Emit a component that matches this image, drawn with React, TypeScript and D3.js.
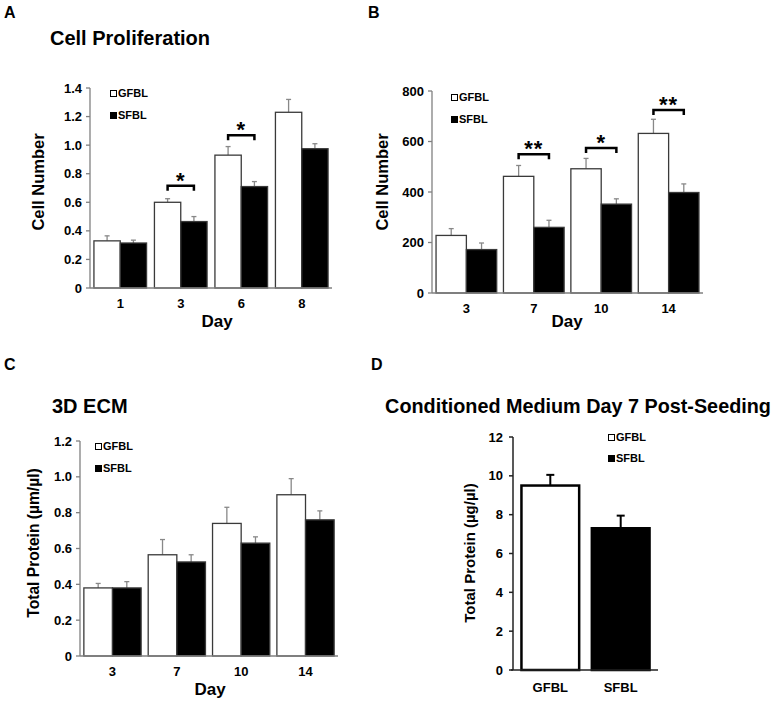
import React from 'react';
import * as d3 from 'd3';

// Panel A - cell proliferation
const daysA = ['1', '3', '6', '8'];
const gfblA = [0.33, 0.6, 0.93, 1.23];
const gfblErrA = [0.035, 0.025, 0.06, 0.09];
const sfblA = [0.315, 0.465, 0.71, 0.975];
const sfblErrA = [0.02, 0.035, 0.035, 0.035];
const sigA = [
  { day: '3', y: 0.715, label: '*' },
  { day: '6', y: 1.07, label: '*' },
];

// Panel B - cell number
const daysB = ['3', '7', '10', '14'];
const gfblB = [228, 462, 492, 632];
const gfblErrB = [27, 43, 41, 56];
const sfblB = [172, 260, 352, 398];
const sfblErrB = [26, 28, 21, 34];
const sigB = [
  { day: '7', y: 550, label: '**' },
  { day: '10', y: 574, label: '*' },
  { day: '14', y: 725, label: '**' },
];

// Panel C - 3D ECM
const daysC = ['3', '7', '10', '14'];
const gfblC = [0.38, 0.565, 0.74, 0.9];
const gfblErrC = [0.025, 0.085, 0.09, 0.09];
const sfblC = [0.38, 0.525, 0.63, 0.76];
const sfblErrC = [0.035, 0.04, 0.035, 0.05];

// Panel D - conditioned medium
const groupsD = ['GFBL', 'SFBL'];
const valuesD = [9.5, 7.3];
const errD = [0.55, 0.65];

const FONT = '"Liberation Sans", Arial, sans-serif';

type PanelProps = {
  x0: number; x1: number; y0: number; y1: number;
  max: number; step: number; fmt: (v: number) => string;
  days: string[]; gfbl: number[]; gfblErr: number[]; sfbl: number[]; sfblErr: number[];
  sig?: { day: string; y: number; label: string }[];
  pi: number; po: number;
  legendX: number; legendY: number;
};

const GroupedPanel = (p: PanelProps) => {
  const x = d3.scaleBand().domain(p.days).range([p.x0, p.x1]).paddingInner(p.pi).paddingOuter(p.po);
  const y = d3.scaleLinear().domain([0, p.max]).range([p.y1, p.y0]);
  const bw = x.bandwidth() / 2;
  const ticks = d3.range(0, p.max + p.step / 2, p.step);
  const series = [
    { vals: p.gfbl, err: p.gfblErr, fill: '#fff', off: 0 },
    { vals: p.sfbl, err: p.sfblErr, fill: '#000', off: bw },
  ];
  return (
    <g>
      {series.map((s, si) =>
        p.days.map((d, i) => {
          const bx = (x(d) as number) + s.off;
          const cx = bx + bw / 2;
          return (
            <g key={`${si}-${d}`}>
              <line x1={cx} x2={cx} y1={y(s.vals[i])} y2={y(s.vals[i] + s.err[i])} stroke="#888" strokeWidth={1.3} />
              <line x1={cx - 2.5} x2={cx + 2.5} y1={y(s.vals[i] + s.err[i])} y2={y(s.vals[i] + s.err[i])} stroke="#888" strokeWidth={1.3} />
              <rect x={bx} y={y(s.vals[i])} width={bw} height={y(0) - y(s.vals[i])} fill={s.fill} stroke="#3a3a3a" strokeWidth={1.3} />
            </g>
          );
        })
      )}
      {/* axes */}
      <line x1={p.x0} x2={p.x0} y1={p.y0} y2={p.y1} stroke="#808080" strokeWidth={1.3} />
      <line x1={p.x0} x2={p.x1} y1={p.y1} y2={p.y1} stroke="#808080" strokeWidth={1.3} />
      {ticks.map(t => (
        <g key={t} transform={`translate(${p.x0},${y(t)})`}>
          <line x1={-4} x2={0} stroke="#808080" strokeWidth={1.3} />
          <text x={-8} dy="0.35em" textAnchor="end" fontSize={13} fontWeight="bold">{p.fmt(t)}</text>
        </g>
      ))}
      {p.days.map(d => (
        <text key={d} x={(x(d) as number) + x.bandwidth() / 2} y={p.y1 + 20} textAnchor="middle" fontSize={13} fontWeight="bold">{d}</text>
      ))}
      {(p.sig || []).map(s => {
        const xa = (x(s.day) as number) + bw / 2;
        const xb = (x(s.day) as number) + bw * 1.5;
        const yy = y(s.y);
        return (
          <g key={s.day}>
            <path d={`M${xa},${yy + 5}V${yy}H${xb}V${yy + 5}`} fill="none" stroke="#000" strokeWidth={2.5} />
            <text x={(xa + xb) / 2} y={yy + 2} textAnchor="middle" fontSize={22} fontWeight="bold" letterSpacing={1}>{s.label}</text>
          </g>
        );
      })}
      {/* legend */}
      <rect x={p.legendX + 0.5} y={p.legendY - 6.5} width={6} height={6} fill="#fff" stroke="#000" strokeWidth={1} />
      <text x={p.legendX + 8} y={p.legendY} fontSize={11} fontWeight="bold">GFBL</text>
      <rect x={p.legendX} y={p.legendY + 15} width={7} height={7} fill="#000" />
      <text x={p.legendX + 8} y={p.legendY + 22} fontSize={11} fontWeight="bold">SFBL</text>
    </g>
  );
};

const PanelD = () => {
  const x0 = 513, x1 = 658, y0 = 437, y1 = 670;
  const x = d3.scaleBand().domain(groupsD).range([x0, x1]).paddingInner(0.18).paddingOuter(0.12);
  const y = d3.scaleLinear().domain([0, 12]).range([y1, y0]);
  const ticks = d3.range(0, 13, 2);
  return (
    <g>
      {groupsD.map((g, i) => {
        const bx = x(g) as number;
        const cx = bx + x.bandwidth() / 2;
        const top = y(valuesD[i] + errD[i]);
        return (
          <g key={g}>
            <line x1={cx} x2={cx} y1={y(valuesD[i])} y2={top} stroke="#000" strokeWidth={2} />
            <line x1={cx - 4} x2={cx + 4} y1={top} y2={top} stroke="#000" strokeWidth={2} />
            <rect x={bx} y={y(valuesD[i])} width={x.bandwidth()} height={y(0) - y(valuesD[i])}
              fill={i === 0 ? '#fff' : '#000'} stroke="#000" strokeWidth={2.5} />
            <text x={cx} y={y1 + 22} textAnchor="middle" fontSize={13} fontWeight="bold">{g}</text>
          </g>
        );
      })}
      <line x1={x0} x2={x0} y1={y0} y2={y1} stroke="#222" strokeWidth={1.5} />
      <line x1={x0 - 2} x2={x1} y1={y1} y2={y1} stroke="#222" strokeWidth={1.5} />
      {ticks.map(t => (
        <g key={t} transform={`translate(${x0},${y(t)})`}>
          <line x1={-4} x2={0} stroke="#222" strokeWidth={1.5} />
          <text x={-10} dy="0.35em" textAnchor="end" fontSize={13} fontWeight="bold">{t}</text>
        </g>
      ))}
      <rect x={608.5} y={434.5} width={6} height={6} fill="#fff" stroke="#000" strokeWidth={1} />
      <text x={616} y={441} fontSize={11} fontWeight="bold">GFBL</text>
      <rect x={608} y={455} width={7} height={7} fill="#000" />
      <text x={616} y={462} fontSize={11} fontWeight="bold">SFBL</text>
    </g>
  );
};

const fmt1 = (v: number) => (v === 0 ? '0' : v.toFixed(1));
const fmt0 = (v: number) => String(Math.round(v));

export default function App() {
  return (
    <svg width={776} height={702} style={{ position: 'absolute', left: 0, top: 0, background: '#fff' }} fontFamily={FONT}>
      <rect width={776} height={702} fill="#fff" />
      {/* panel letters */}
      <text x={4} y={18} fontSize={16} fontWeight="bold">A</text>
      <text x={368} y={18} fontSize={16} fontWeight="bold">B</text>
      <text x={4} y={370} fontSize={16} fontWeight="bold">C</text>
      <text x={371} y={370} fontSize={16} fontWeight="bold">D</text>

      {/* titles */}
      <text x={50} y={45} fontSize={20} fontWeight="bold">Cell Proliferation</text>
      <text x={52} y={413} fontSize={20} fontWeight="bold">3D ECM</text>
      <text x={578} y={413} textAnchor="middle" fontSize={19.8} fontWeight="bold">Conditioned Medium Day 7 Post-Seeding</text>

      {/* axis titles */}
      <text transform="translate(44,182) rotate(-90)" textAnchor="middle" fontSize={16.5} fontWeight="bold">Cell Number</text>
      <text transform="translate(388,182) rotate(-90)" textAnchor="middle" fontSize={16.5} fontWeight="bold">Cell Number</text>
      <text transform="translate(39,543) rotate(-90)" textAnchor="middle" fontSize={15.6} fontWeight="bold">Total Protein (µm/µl)</text>
      <text transform="translate(475,553) rotate(-90)" textAnchor="middle" fontSize={15} fontWeight="bold">Total Protein (µg/µl)</text>
      <text x={217} y={327} textAnchor="middle" fontSize={17} fontWeight="bold">Day</text>
      <text x={567} y={327} textAnchor="middle" fontSize={17} fontWeight="bold">Day</text>
      <text x={210} y={695} textAnchor="middle" fontSize={17} fontWeight="bold">Day</text>

      <GroupedPanel x0={90} x1={332} y0={88} y1={288} max={1.4} step={0.2} fmt={fmt1}
        days={daysA} gfbl={gfblA} gfblErr={gfblErrA} sfbl={sfblA} sfblErr={sfblErrA} sig={sigA}
        pi={0.13} po={0.065} legendX={110} legendY={97} />
      <GroupedPanel x0={432} x1={703} y0={91} y1={293} max={800} step={200} fmt={fmt0}
        days={daysB} gfbl={gfblB} gfblErr={gfblErrB} sfbl={sfblB} sfblErr={sfblErrB} sig={sigB}
        pi={0.1} po={0.06} legendX={451} legendY={101} />
      <GroupedPanel x0={80} x1={338} y0={441} y1={656} max={1.2} step={0.2} fmt={fmt1}
        days={daysC} gfbl={gfblC} gfblErr={gfblErrC} sfbl={sfblC} sfblErr={sfblErrC}
        pi={0.11} po={0.06} legendX={95} legendY={450} />
      <PanelD />
    </svg>
  );
}
